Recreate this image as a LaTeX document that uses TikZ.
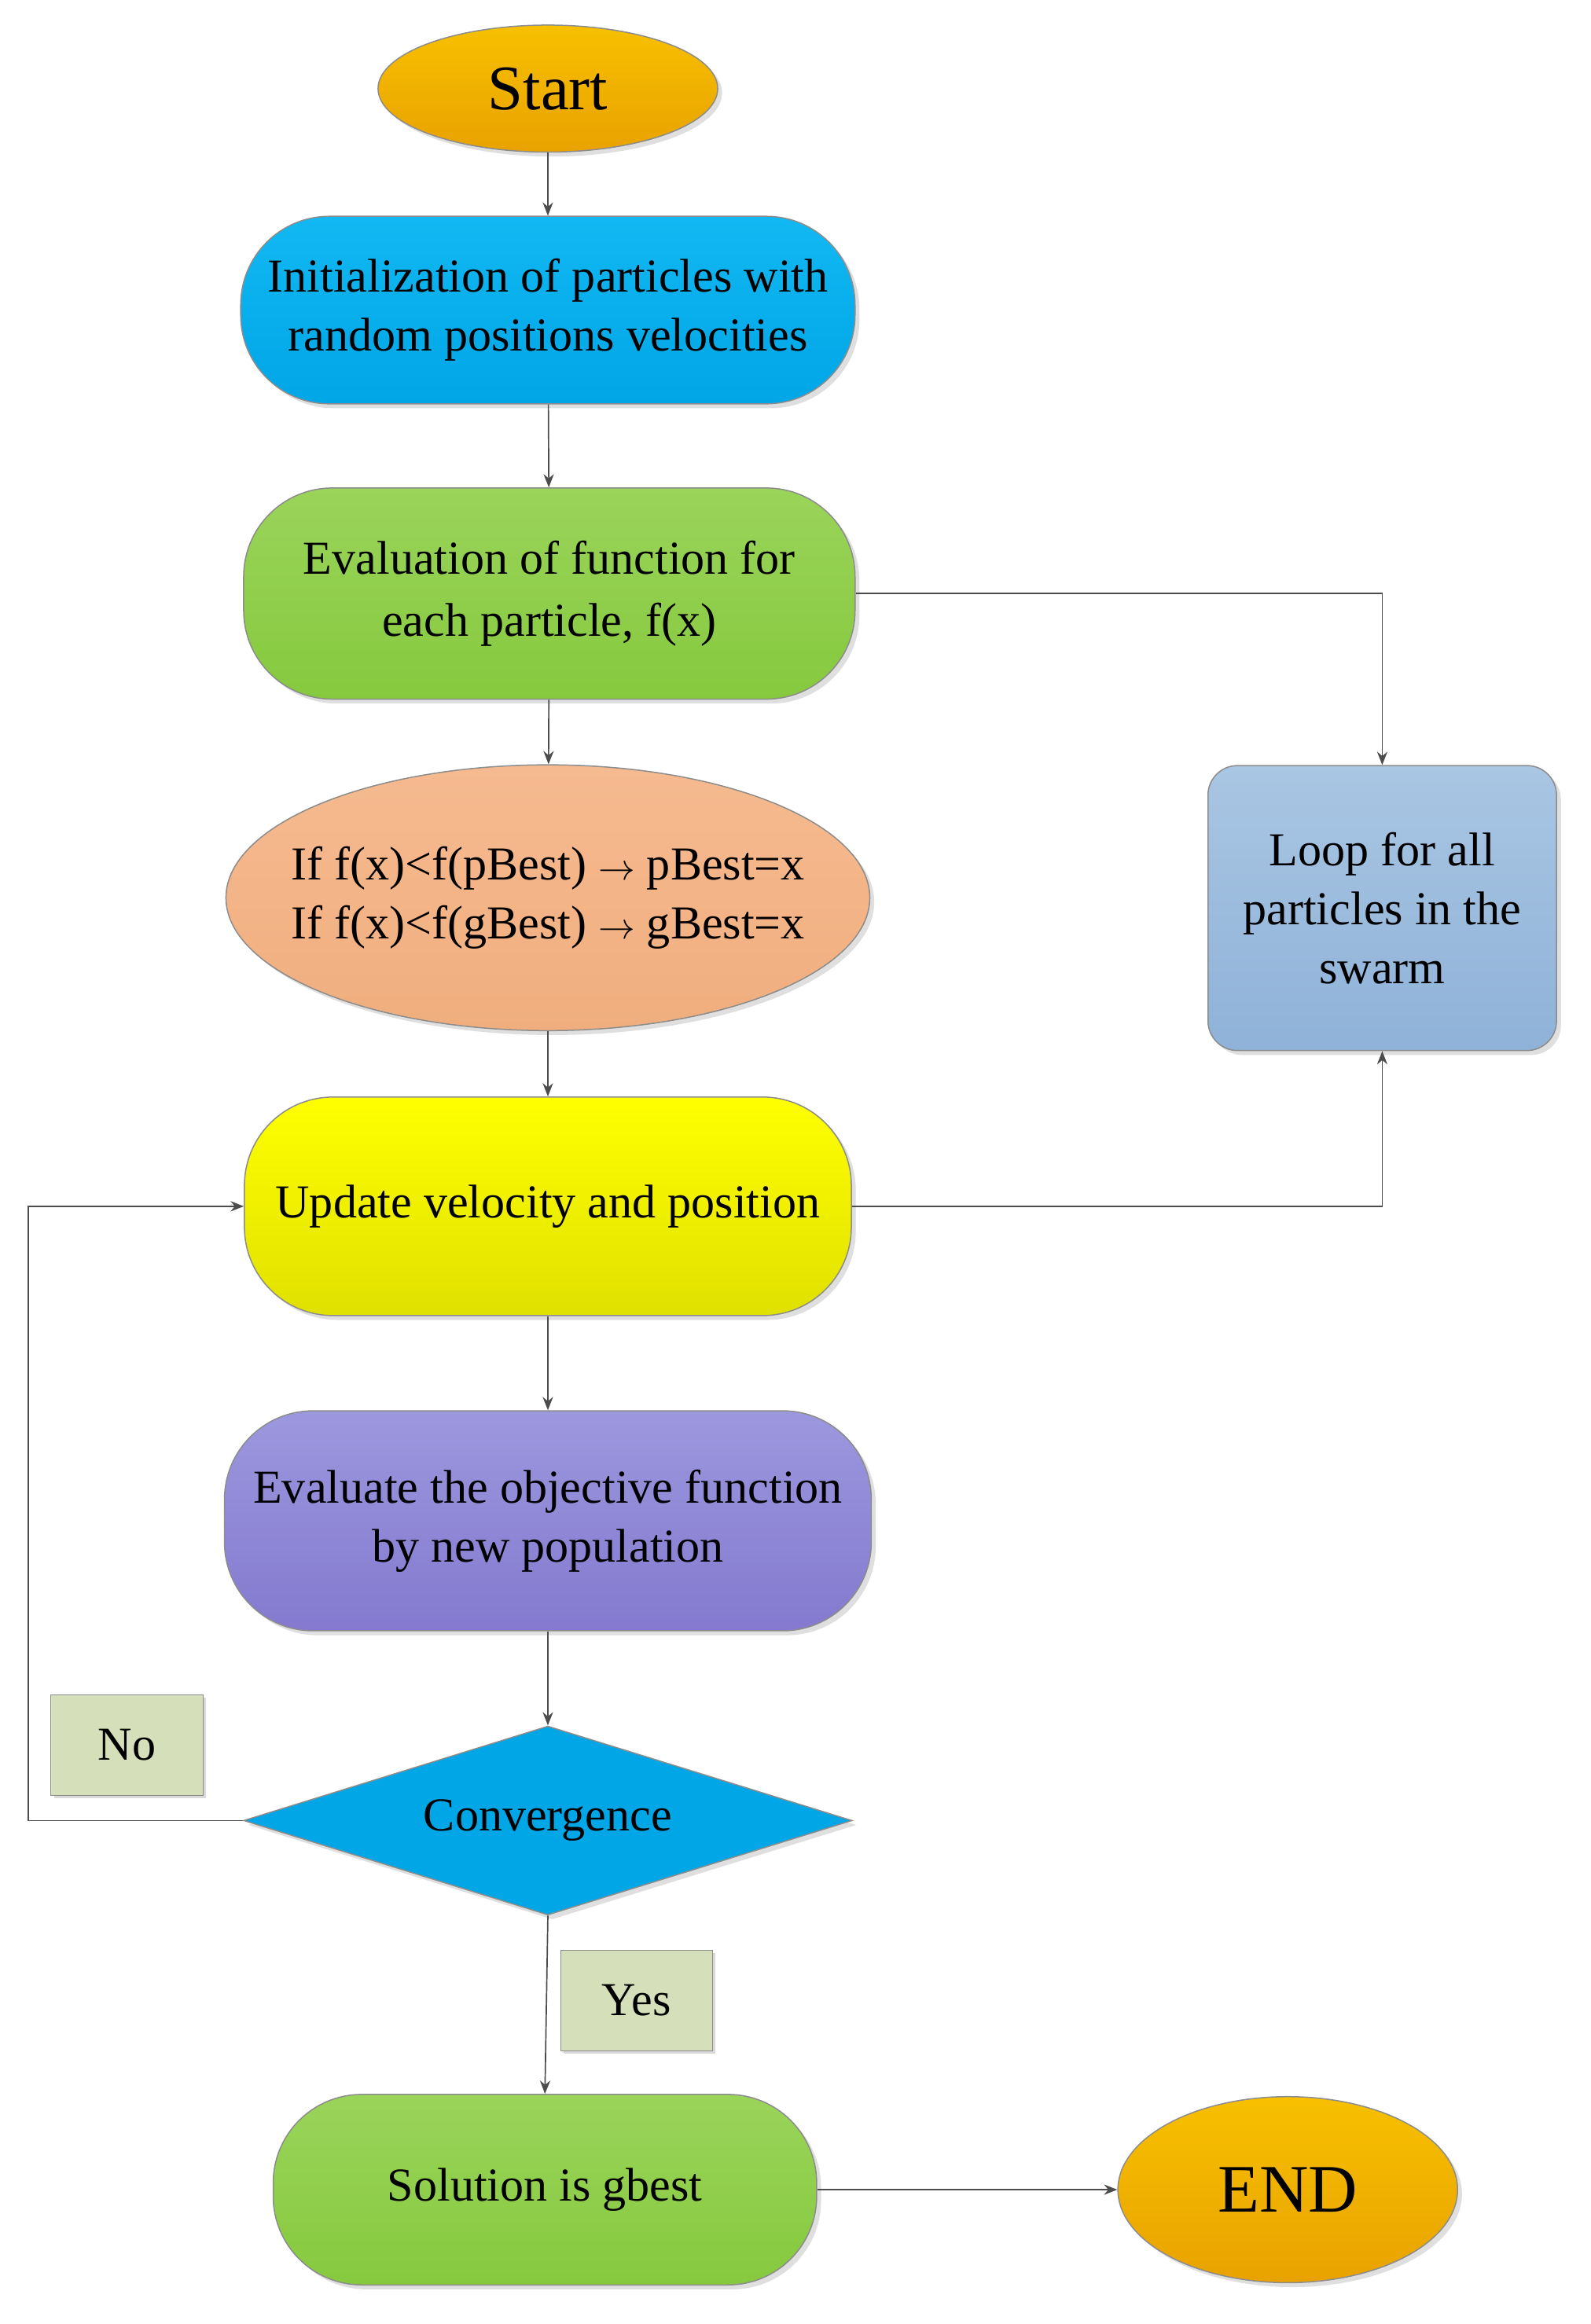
\documentclass[tikz,border=0pt]{standalone}
\usepackage{fontspec}
\setmainfont{Liberation Serif}
\usetikzlibrary{shapes.geometric,arrows.meta,shadows}
\definecolor{orT}{HTML}{F7C000}\definecolor{orB}{HTML}{E9A200}
\definecolor{cyT}{HTML}{12B8F2}\definecolor{cyB}{HTML}{00A6E6}
\definecolor{grT}{HTML}{9AD45A}\definecolor{grB}{HTML}{86C93E}
\definecolor{saT}{HTML}{F6BA90}\definecolor{saB}{HTML}{F0AE7E}
\definecolor{puT}{HTML}{9C98DE}\definecolor{puB}{HTML}{8479CF}
\definecolor{blT}{HTML}{A9C6E3}\definecolor{blB}{HTML}{8FB2D8}
\definecolor{tagc}{HTML}{D5E0BA}
\begin{document}
\begin{tikzpicture}[x=1pt,y=-1pt,
  base/.style={draw=black!45,line width=0.8pt,align=center,inner sep=0pt,font=\fontsize{32}{40}\selectfont,drop shadow={shadow xshift=3pt,shadow yshift=-3pt,opacity=0.25}},
  stad/.style={base,rectangle,rounded corners=60pt},
  ell/.style={base,ellipse},
  tag/.style={draw=black!45,fill=tagc,minimum width=103pt,minimum height=68pt,font=\fontsize{32}{36}\selectfont,drop shadow={shadow xshift=2pt,shadow yshift=-2pt,opacity=0.3}},
  arr/.style={draw=black!70,line width=0.9pt,-{Stealth[length=9pt,width=7pt]}}]
\useasboundingbox (0,0) rectangle (1077,1574);
\node[ell,top color=orT,bottom color=orB,minimum width=230pt,minimum height=86pt,font=\fontsize{43}{46}\selectfont] (start) at (371,60) {Start};
\node[stad,top color=cyT,bottom color=cyB,minimum width=416pt,minimum height=127pt] (init) at (371,210) {Initialization of particles with\\random positions velocities};
\node[stad,top color=grT,bottom color=grB,minimum width=414pt,minimum height=143pt,font=\fontsize{32}{42}\selectfont] (eval) at (372,402) {Evaluation of function for\\each particle, f(x)};
\node[ell,top color=saT,bottom color=saB,minimum width=436pt,minimum height=180pt,inner xsep=-60pt,inner ysep=-10pt] (cond) at (371,608) {If f(x)<f(pBest) $\rightarrow$ pBest=x\\If f(x)<f(gBest) $\rightarrow$ gBest=x};
\node[stad,top color=yellow,bottom color=yellow!88!black,minimum width=411pt,minimum height=148pt] (upd) at (371,817) {Update velocity and position};
\node[stad,top color=puT,bottom color=puB,minimum width=438pt,minimum height=149pt] (obj) at (371,1030) {Evaluate the objective function\\by new population};
\node[base,diamond,aspect=3.2,fill=cyB,minimum width=412pt,minimum height=128pt,inner sep=0pt] (conv) at (371,1233) {Convergence};
\node[stad,top color=grT,bottom color=grB,minimum width=368pt,minimum height=129pt] (sol) at (369,1483) {Solution is gbest};
\node[ell,top color=orT,bottom color=orB,minimum width=230pt,minimum height=126pt,font=\fontsize{46}{50}\selectfont] (end) at (872,1483) {END};
\node[base,rectangle,rounded corners=20pt,top color=blT,bottom color=blB,minimum width=236pt,minimum height=193pt] (loop) at (936,615) {Loop for all\\particles in the\\swarm};
\node[tag] (no) at (86,1182) {No};
\node[tag] (yes) at (431,1355) {Yes};
\coordinate (c1) at (936,402);
\coordinate (c2) at (936,817);
\coordinate (c3) at (19,1233);
\coordinate (c4) at (19,817);
\draw[arr] (start) -- (init);
\draw[arr] (init) -- (eval);
\draw[arr] (eval) -- (cond);
\draw[arr] (cond) -- (upd);
\draw[arr] (upd) -- (obj);
\draw[arr] (obj) -- (conv);
\draw[arr] (conv.south) -- (sol.north);
\draw[arr] (sol) -- (end);
\draw[arr] (eval.east) -- (c1) -- (loop.north);
\draw[arr] (upd.east) -- (c2) -- (loop.south);
\draw[arr] (conv.west) -- (c3) -- (c4) -- (upd.west);
\end{tikzpicture}
\end{document}
